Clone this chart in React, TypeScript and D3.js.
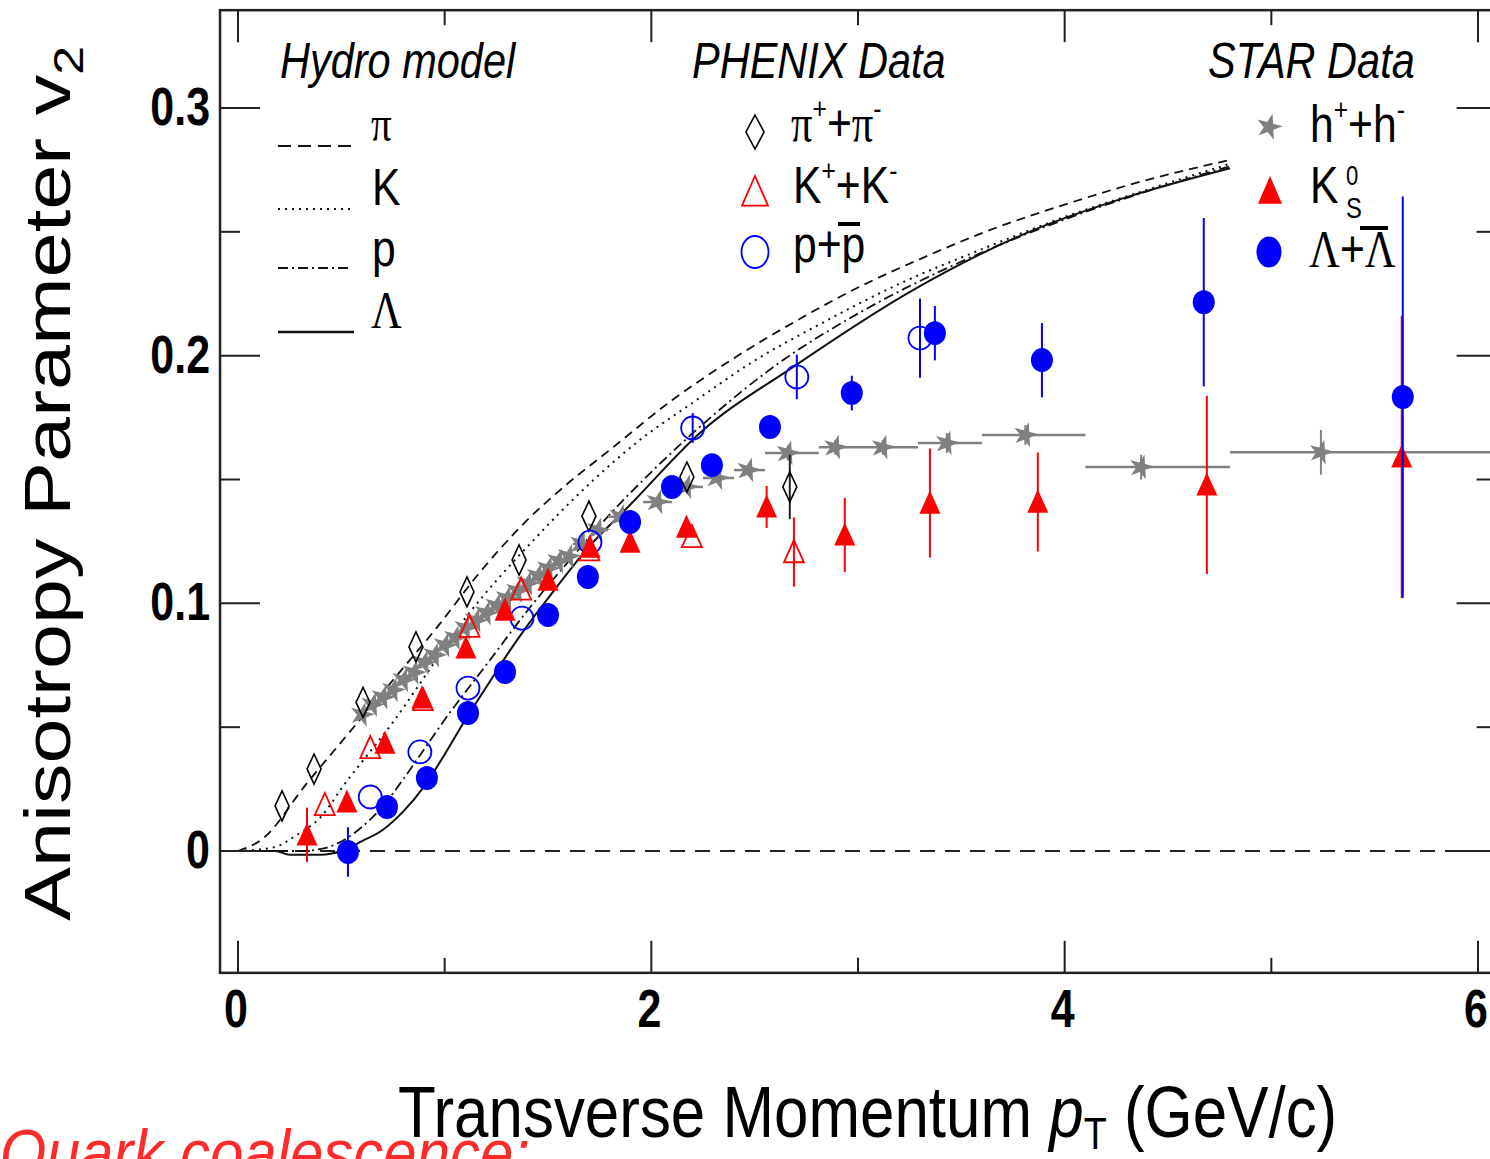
import React from 'react';
import * as d3 from 'd3';

const W = 1490;
const H = 1159;

// ---- Hydro model curves ----
const hydroPiPt = [0, 0.12, 0.33, 0.54, 0.75, 0.96, 1.17, 1.38, 1.59, 1.8, 2.1, 2.4, 2.7, 3.0, 3.3, 3.6, 4.0, 4.4, 4.8];
const hydroPiV2 = [0, 0.005, 0.027, 0.048, 0.069, 0.09, 0.1125, 0.132, 0.148, 0.162, 0.182, 0.199, 0.214, 0.2275, 0.239, 0.2495, 0.261, 0.271, 0.279];

const hydroKPt = [0, 0.18, 0.27, 0.4, 0.52, 0.6, 0.75, 0.9, 1.1, 1.28, 1.43, 1.55, 1.72, 1.93, 2.2, 2.5, 2.8, 3.2, 3.6, 4.0, 4.4, 4.8];
const hydroKV2 = [0, 0.0016, 0.0057, 0.0137, 0.0275, 0.036, 0.052, 0.07, 0.094, 0.112, 0.1255, 0.136, 0.1498, 0.165, 0.181, 0.198, 0.212, 0.229, 0.243, 0.256, 0.267, 0.2775];

const hydroPPt = [0, 0.3, 0.42, 0.6, 0.7, 0.8, 0.9, 1.0, 1.2, 1.4, 1.6, 1.8, 2.0, 2.3, 2.6, 3.0, 3.5, 4.0, 4.5, 4.8];
const hydroPV2 = [0, 0, 0.0012, 0.0097, 0.018, 0.029, 0.041, 0.053, 0.075, 0.097, 0.117, 0.136, 0.153, 0.176, 0.196, 0.217, 0.238, 0.255, 0.269, 0.2765];

const hydroLPt = [0, 0.18, 0.25, 0.4, 0.5, 0.6, 0.7, 0.8, 0.9, 1.0, 1.1, 1.2, 1.3, 1.4, 1.5, 1.7, 1.9, 2.235, 2.685, 3.266, 3.8, 4.3, 4.8];
const hydroLV2 = [0, 0, -0.0015, -0.0015, 0, 0.004, 0.0085, 0.016, 0.026, 0.039, 0.053, 0.066, 0.079, 0.091, 0.102, 0.123, 0.14, 0.1688, 0.1954, 0.2265, 0.249, 0.264, 0.2757];

// ---- PHENIX data ----
const phxPiPt = [0.213, 0.368, 0.605, 0.861, 1.108, 1.36, 1.698, 2.172, 2.67];
const phxPiV2 = [0.0182, 0.0331, 0.06, 0.0824, 0.1046, 0.1175, 0.1352, 0.151, 0.147];
const phxPiErr = [0, 0, 0, 0, 0, 0, 0, 0, 0.013];

const phxKPt = [0.42, 0.64, 0.895, 1.12, 1.37, 1.7, 2.196, 2.69];
const phxKV2 = [0.0186, 0.0416, 0.061, 0.0906, 0.1056, 0.1215, 0.1268, 0.1207];
const phxKErr = [0, 0, 0, 0, 0, 0, 0, 0.014];

const phxPPt = [0.64, 0.88, 1.113, 1.374, 1.703, 2.2, 2.704, 3.3];
const phxPV2 = [0.0218, 0.04, 0.0658, 0.094, 0.1247, 0.1708, 0.1914, 0.2071];
const phxPErr = [0, 0, 0, 0, 0, 0.006, 0.009, 0.016];

// ---- STAR data ----
const starHDensePt = [0.6, 0.65, 0.7, 0.75, 0.8, 0.85, 0.9, 0.95, 1.0, 1.05, 1.1, 1.15, 1.2, 1.25, 1.3, 1.35, 1.4, 1.45, 1.5, 1.55, 1.6];
const starHDenseV2 = [0.055, 0.059, 0.062, 0.065, 0.069, 0.072, 0.076, 0.079, 0.083, 0.086, 0.09, 0.093, 0.096, 0.099, 0.102, 0.105, 0.108, 0.111, 0.114, 0.117, 0.119];

const starHPt = [1.66, 1.74, 1.85, 2.03, 2.17, 2.32, 2.47, 2.66, 2.89, 3.12, 3.43, 3.81, 4.37, 5.24];
const starHV2 = [0.124, 0.1296, 0.135, 0.1409, 0.147, 0.1506, 0.1538, 0.1607, 0.163, 0.163, 0.1647, 0.168, 0.155, 0.161];
const starHXlo = [1.62, 1.7, 1.79, 1.96, 2.1, 2.25, 2.4, 2.55, 2.81, 3.0, 3.29, 3.6, 4.1, 4.8];
const starHXhi = [1.7, 1.79, 1.9, 2.1, 2.25, 2.4, 2.55, 2.81, 3.0, 3.29, 3.6, 4.1, 4.8, 6.1];
const starHErr = [0, 0, 0, 0, 0, 0, 0, 0.003, 0.003, 0.003, 0.004, 0.004, 0.005, 0.009];

const starKPt = [0.334, 0.527, 0.711, 0.89, 1.103, 1.292, 1.5, 1.703, 1.897, 2.17, 2.558, 2.936, 3.348, 3.87, 4.688, 5.631];
const starKV2 = [0.0065, 0.0198, 0.0436, 0.0618, 0.082, 0.0973, 0.1094, 0.1227, 0.1247, 0.1308, 0.1389, 0.1276, 0.1405, 0.1409, 0.1478, 0.1591];
const starKErr = [0.011, 0, 0, 0, 0, 0, 0, 0, 0, 0, 0.0085, 0.015, 0.022, 0.02, 0.036, 0.057];

const starLPt = [0.532, 0.721, 0.914, 1.113, 1.292, 1.5, 1.693, 1.897, 2.1, 2.293, 2.574, 2.97, 3.372, 3.89, 4.673, 5.636];
const starLV2 = [-0.0004, 0.0178, 0.0295, 0.0557, 0.0723, 0.0953, 0.1106, 0.1328, 0.147, 0.1558, 0.1712, 0.1849, 0.2091, 0.1982, 0.2216, 0.1833];
const starLErr = [0.01, 0, 0, 0, 0, 0, 0, 0, 0, 0, 0.004, 0.007, 0.011, 0.015, 0.034, 0.081];

// ---- axes ----
const xTicks = [0, 1, 2, 3, 4, 5, 6];
const xTickLabels = [0, 2, 4, 6];
const yTicks = [0, 0.05, 0.1, 0.15, 0.2, 0.25, 0.3];
const yTickLabels = ['0', '0.1', '0.2', '0.3'];
const yTickLabelVals = [0, 0.1, 0.2, 0.3];

const SANS = "'Liberation Sans', Arial, Helvetica, sans-serif";
const SERIF = "'Liberation Serif', 'DejaVu Serif', serif";
const RED = '#ff0000';
const BLUE = '#0000ff';
const GRAY = '#808080';
const SX = 0.82;

function T(props: any) {
  const { x, y, size, children, anchor = 'start', weight, italic, family, fill = '#000', sx = SX } = props;
  return (
    <text
      transform={`translate(${x},${y}) scale(${sx},1)`}
      fontSize={size}
      textAnchor={anchor}
      fontWeight={weight}
      fontStyle={italic ? 'italic' : undefined}
      fontFamily={family || SANS}
      fill={fill}
    >
      {children}
    </text>
  );
}

const diamondPath = (w: number, h: number) => `M0,${-h} L${w},0 L0,${h} L${-w},0 Z`;
const triPath = (w: number, h: number) => `M0,${-h} L${w},${h * 0.85} L${-w},${h * 0.85} Z`;

export default function App() {
  const x = d3.scaleLinear().domain([0, 6]).range([238, 1478]);
  const y = d3.scaleLinear().domain([0, 0.3]).range([851, 108]);
  const x0 = x(-0.087);
  const x1 = x(6.09);
  const yB = y(-0.0492);
  const yT = y(0.3395);

  const line = d3
    .line<[number, number]>()
    .x((d) => x(d[0]))
    .y((d) => y(d[1]))
    .curve(d3.curveMonotoneX);
  const zip = (a: number[], b: number[]) => a.map((v, i) => [v, b[i]] as [number, number]);

  const starSym = d3.symbol().type(d3.symbolStar).size(190)();
  const starSymLeg = d3.symbol().type(d3.symbolStar).size(210)();

  const curves = [
    { pt: hydroPiPt, v: hydroPiV2, dash: '9 6', w: 1.8 },
    { pt: hydroKPt, v: hydroKV2, dash: '2 5', w: 2 },
    { pt: hydroPPt, v: hydroPV2, dash: '10 4 2 4', w: 1.8 },
    { pt: hydroLPt, v: hydroLV2, dash: undefined, w: 2 },
  ];

  const errBar = (pt: number, v: number, e: number, color: string, key: string) =>
    e > 0 ? (
      <line key={key} x1={x(pt)} x2={x(pt)} y1={y(v - e)} y2={y(v + e)} stroke={color} strokeWidth={2} />
    ) : null;

  return (
    <div style={{ position: 'absolute', left: 0, top: 0 }}>
      <svg width={W} height={H} style={{ display: 'block', background: '#fff' }}>
        <rect x={0} y={0} width={W} height={H} fill="#fff" />

        {/* zero line */}
        <line x1={x0} x2={x1} y1={y(0)} y2={y(0)} stroke="#222" strokeWidth={2} strokeDasharray="15 10" />

        {/* hydro curves */}
        {curves.map((c, i) => (
          <path key={i} d={line(zip(c.pt, c.v)) || ''} fill="none" stroke="#111" strokeWidth={c.w} strokeDasharray={c.dash} />
        ))}

        {/* STAR h+h- */}
        {starHDensePt.map((pt, i) => (
          <path key={'hd' + i} d={starSym || ''} transform={`translate(${x(pt)},${y(starHDenseV2[i])}) rotate(15)`} fill={GRAY} />
        ))}
        {starHPt.map((pt, i) => (
          <g key={'h' + i}>
            <line x1={x(starHXlo[i])} x2={Math.min(x(starHXhi[i]), x1)} y1={y(starHV2[i])} y2={y(starHV2[i])} stroke={GRAY} strokeWidth={2.5} />
            {errBar(pt, starHV2[i], starHErr[i], GRAY, 'he' + i)}
            <path d={starSym || ''} transform={`translate(${x(pt)},${y(starHV2[i])}) rotate(15)`} fill={GRAY} />
          </g>
        ))}

        {/* PHENIX pi */}
        {phxPiPt.map((pt, i) => (
          <g key={'pi' + i}>
            {errBar(pt, phxPiV2[i], phxPiErr[i], '#222', 'pie' + i)}
            <path d={diamondPath(7, 15)} transform={`translate(${x(pt)},${y(phxPiV2[i])})`} fill="none" stroke="#000" strokeWidth={1.6} />
          </g>
        ))}
        {/* PHENIX K */}
        {phxKPt.map((pt, i) => (
          <g key={'k' + i}>
            {errBar(pt, phxKV2[i], phxKErr[i], RED, 'ke' + i)}
            <path d={triPath(10, 12)} transform={`translate(${x(pt)},${y(phxKV2[i])})`} fill="none" stroke={RED} strokeWidth={1.8} />
          </g>
        ))}
        {/* PHENIX p */}
        {phxPPt.map((pt, i) => (
          <g key={'p' + i}>
            {errBar(pt, phxPV2[i], phxPErr[i], BLUE, 'pe' + i)}
            <circle cx={x(pt)} cy={y(phxPV2[i])} r={11.5} fill="none" stroke={BLUE} strokeWidth={1.8} />
          </g>
        ))}
        {/* STAR K0s */}
        {starKPt.map((pt, i) => (
          <g key={'sk' + i}>
            {errBar(pt, starKV2[i], starKErr[i], RED, 'ske' + i)}
            <path d={triPath(10.5, 12.5)} transform={`translate(${x(pt)},${y(starKV2[i])})`} fill={RED} />
          </g>
        ))}
        {/* STAR Lambda */}
        {starLPt.map((pt, i) => (
          <g key={'sl' + i}>
            {errBar(pt, starLV2[i], starLErr[i], BLUE, 'sle' + i)}
            <ellipse cx={x(pt)} cy={y(starLV2[i])} rx={11} ry={12} fill={BLUE} />
          </g>
        ))}

        {/* frame */}
        <rect x={x0} y={yT} width={x1 - x0} height={yB - yT} fill="none" stroke="#222" strokeWidth={2.5} />
        {xTicks.map((t) => {
          const len = t % 2 === 0 ? 32 : 15;
          return (
            <g key={'xt' + t}>
              <line x1={x(t)} x2={x(t)} y1={yB} y2={yB - len} stroke="#222" strokeWidth={2} />
              <line x1={x(t)} x2={x(t)} y1={yT} y2={yT + len} stroke="#222" strokeWidth={2} />
            </g>
          );
        })}
        {yTicks.map((t, i) => {
          const len = i % 2 === 0 ? 40 : 20;
          return (
            <g key={'yt' + i}>
              <line x1={x0} x2={x0 + len} y1={y(t)} y2={y(t)} stroke="#222" strokeWidth={2} />
              <line x1={x1} x2={x1 - len} y1={y(t)} y2={y(t)} stroke="#222" strokeWidth={2} />
            </g>
          );
        })}

        {/* tick labels */}
        {yTickLabelVals.map((v, i) => (
          <T key={'yl' + i} x={210} y={y(v) + 17} size={53} anchor="end" weight="bold" sx={0.81}>
            {yTickLabels[i]}
          </T>
        ))}
        {xTickLabels.map((v) => (
          <T key={'xl' + v} x={x(v) - 2} y={1027} size={53} anchor="middle" weight="bold" sx={0.81}>
            {String(v)}
          </T>
        ))}

        {/* axis titles */}
        <T x={398} y={1137} size={72} sx={0.86}>
          Transverse Momentum <tspan fontStyle="italic">p</tspan>
          <tspan fontSize={44} dy={12}>T</tspan>
          <tspan dy={-12}> (GeV/c)</tspan>
        </T>
        <text transform={`translate(70,921) scale(0.81,1) rotate(-90)`} fontSize={81} fontFamily={SANS} fill="#000">
          Anisotropy Parameter v<tspan fontSize={52} dy={16}>2</tspan>
        </text>

        {/* legend: hydro */}
        <T x={280} y={78} size={50} italic sx={0.83}>Hydro model</T>
        <line x1={278} x2={355} y1={146} y2={146} stroke="#111" strokeWidth={2} strokeDasharray="13 7" />
        <line x1={278} x2={350} y1={209} y2={209} stroke="#111" strokeWidth={2} strokeDasharray="2 5" />
        <line x1={278} x2={350} y1={268} y2={268} stroke="#111" strokeWidth={2} strokeDasharray="10 4 2 4" />
        <line x1={278} x2={354} y1={332} y2={332} stroke="#111" strokeWidth={2.5} />
        <T x={371} y={141} size={50} family={SERIF}>π</T>
        <T x={372} y={205} size={52}>K</T>
        <T x={372} y={266} size={52}>p</T>
        <T x={371} y={328} size={52} family={SERIF}>Λ</T>

        {/* legend: PHENIX */}
        <T x={692} y={78} size={50} italic sx={0.83}>PHENIX Data</T>
        <path d={diamondPath(9, 17)} transform="translate(755,132)" fill="none" stroke="#000" strokeWidth={1.6} />
        <path d={triPath(13, 16)} transform="translate(755,192)" fill="none" stroke={RED} strokeWidth={1.8} />
        <ellipse cx={755} cy={252} rx={13.5} ry={16} fill="none" stroke={BLUE} strokeWidth={1.8} />
        <T x={791} y={141} size={52}>
          <tspan fontFamily={SERIF}>π</tspan>
          <tspan fontSize={30} dy={-22}>+</tspan>
          <tspan dy={22}>+</tspan>
          <tspan fontFamily={SERIF}>π</tspan>
          <tspan fontSize={30} dy={-22}>-</tspan>
        </T>
        <T x={793} y={203} size={52}>
          K<tspan fontSize={30} dy={-22}>+</tspan>
          <tspan dy={22}>+K</tspan>
          <tspan fontSize={30} dy={-22}>-</tspan>
        </T>
        <T x={793} y={262} size={52}>p+p</T>
        <line x1={838} x2={860} y1={224} y2={224} stroke="#000" strokeWidth={4} />

        {/* legend: STAR */}
        <T x={1208} y={78} size={50} italic sx={0.83}>STAR Data</T>
        <path d={starSymLeg || ''} transform="translate(1269,127) rotate(15)" fill={GRAY} />
        <path d={triPath(12, 15)} transform="translate(1270,191)" fill={RED} />
        <ellipse cx={1269} cy={252} rx={12.5} ry={15.5} fill={BLUE} />
        <T x={1310} y={142} size={52}>
          h<tspan fontSize={30} dy={-22}>+</tspan>
          <tspan dy={22}>+h</tspan>
          <tspan fontSize={30} dy={-22}>-</tspan>
        </T>
        <T x={1310} y={203} size={52}>K</T>
        <T x={1346} y={185} size={27}>0</T>
        <T x={1346} y={218} size={29}>S</T>
        <T x={1309} y={267} size={52}>
          <tspan fontFamily={SERIF}>Λ</tspan>+<tspan fontFamily={SERIF}>Λ</tspan>
        </T>
        <line x1={1360} x2={1388} y1={228} y2={228} stroke="#000" strokeWidth={4} />

        {/* red annotation */}
        <text x={0} y={1176} fontSize={66} fontStyle="italic" fontFamily={SANS} fill="#ff2a2a" textLength={530} lengthAdjust="spacingAndGlyphs">
          Quark coalescence:
        </text>
      </svg>
    </div>
  );
}
